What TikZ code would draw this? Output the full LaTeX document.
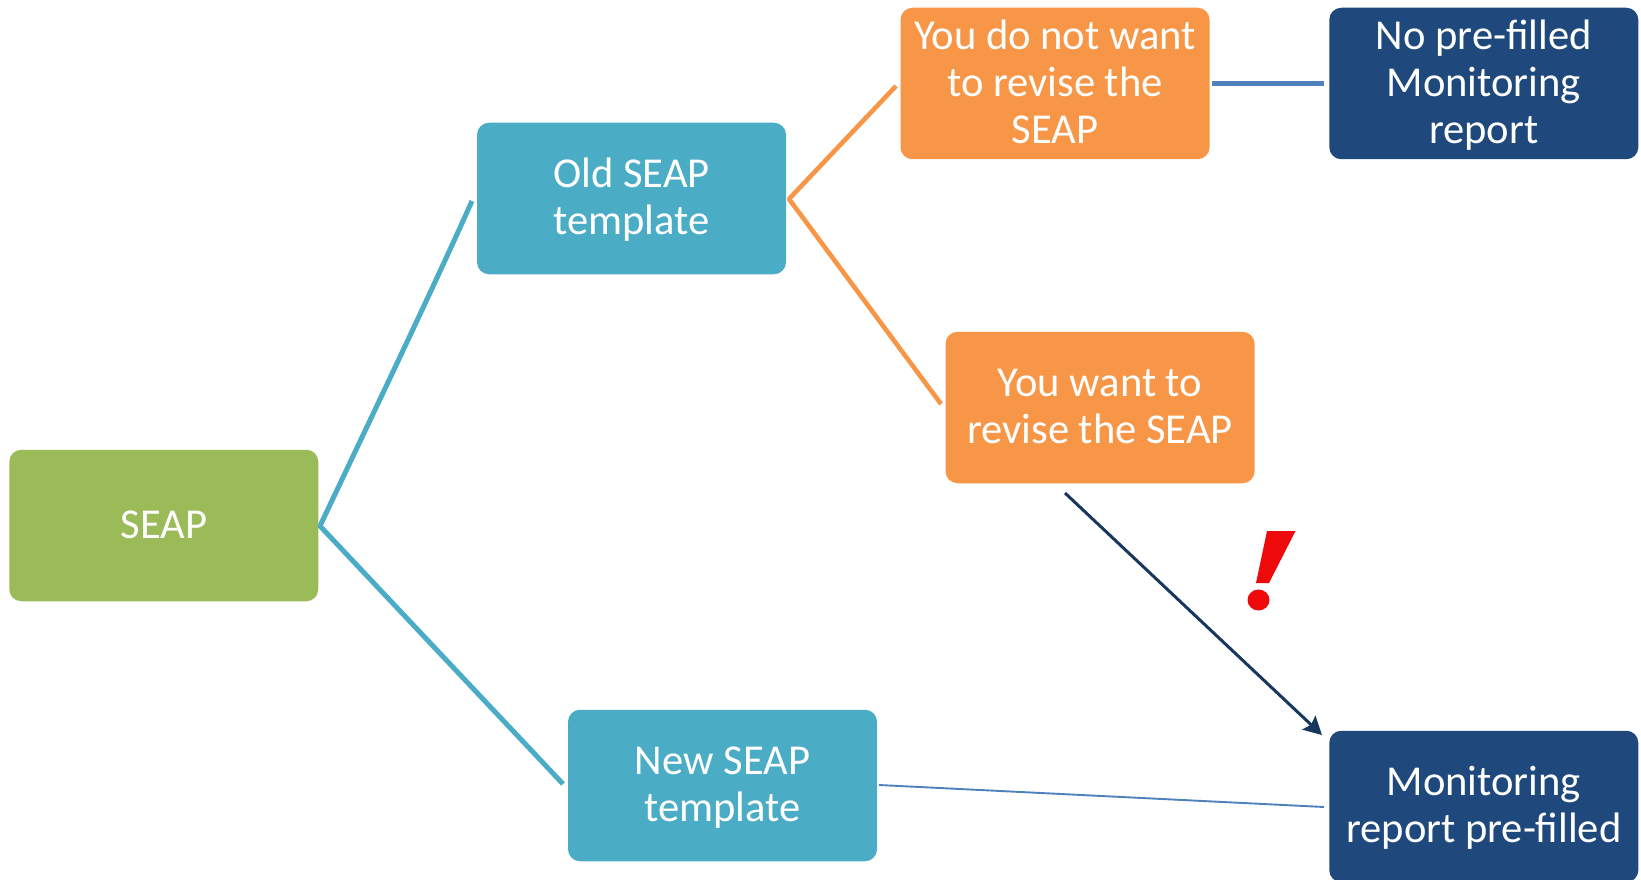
\documentclass[tikz,border=0pt]{standalone}
\usepackage{fontspec}
\setmainfont{Carlito}
\usetikzlibrary{arrows.meta}
\definecolor{cgreen}{HTML}{9BBB59}
\definecolor{cteal}{HTML}{4BACC6}
\definecolor{corange}{HTML}{F79646}
\definecolor{cnavy}{HTML}{1F497D}
\definecolor{cline}{HTML}{4F81BD}
\definecolor{cdark}{HTML}{17375E}
\definecolor{cred}{HTML}{EE0A0A}
\newcommand\lnstrut{\rule[-10.6pt]{0pt}{46.8pt}}
\tikzset{
  x=1pt,y=-1pt,
  boxbase/.style={rounded corners=12pt,minimum width=309pt,minimum height=151.5pt,inner sep=0pt,
    text=white,align=flush center,font=\fontsize{42.6}{46.8}\selectfont,text width=304pt},
  greenbox/.style={boxbase,fill=cgreen},
  tealbox/.style={boxbase,fill=cteal},
  orangebox/.style={boxbase,fill=corange},
  navybox/.style={boxbase,fill=cnavy},
  tealline/.style={draw=cteal,line width=5pt},
  orangeline/.style={draw=corange,line width=4.6pt},
  thickblue/.style={draw=cline,line width=5.5pt},
  thinblue/.style={draw=cline,line width=1.9pt},
  darkarrow/.style={draw=cdark,line width=3pt,-{Stealth[length=18pt,width=19pt,inset=3pt]}},
}
\begin{document}
\begin{tikzpicture}
\path[use as bounding box,fill=white] (0,0) rectangle (1641,880);
\node[greenbox]  (seap) at (163.8,525.5) {\lnstrut SEAP};
\node[tealbox]   (old)  at (631.5,198.5) {\lnstrut Old SEAP\\\lnstrut template};
\node[orangebox] (nowant) at (1055,83.5) {\lnstrut You do not want\\\lnstrut to revise the\\\lnstrut SEAP};
\node[orangebox] (want) at (1100,407.5) {\lnstrut You want to\\\lnstrut revise the SEAP};
\node[tealbox]   (new)  at (722.5,785.5) {\lnstrut New SEAP\\\lnstrut template};
\node[navybox]   (nopre) at (1483.8,83.5) {\lnstrut No pre-filled\\\lnstrut Monitoring\\\lnstrut report};
\node[navybox]   (mon)  at (1483.8,806.5) {\lnstrut Monitoring\\\lnstrut report pre-filled};
% free connector ends, just clear of the boxes
\coordinate (seapj) at (320,526);
\coordinate (oldin) at (472,201);
\coordinate (newin) at (563,784);
\coordinate (oldj) at (789,199);
\coordinate (nowantin) at (896,86);
\coordinate (wantin) at (941,404);
\coordinate (nowantout) at (1212,83.5);
\coordinate (nopre-in) at (1324,83.5);
\coordinate (newout) at (879,785);
\coordinate (monin) at (1324,807);
\coordinate (wantout) at (1065,493);
\coordinate (montop) at (1322,735);
\draw[tealline,line join=bevel] (oldin) .. controls (430,295) and (370,420) .. (seapj) -- (newin);
\draw[orangeline,line join=bevel] (nowantin) -- (oldj) -- (wantin);
\draw[thickblue] (nowantout) -- (nopre-in);
\draw[thinblue] (newout) -- (monin);
\draw[darkarrow] (wantout) -- (montop);
% exclamation mark
\fill[cred] (1267,531) -- (1295.5,531) -- (1269,583) -- (1256,583) -- cycle;
\fill[cred] (1258.5,600) ellipse [x radius=11pt,y radius=10.5pt];
\end{tikzpicture}
\end{document}
